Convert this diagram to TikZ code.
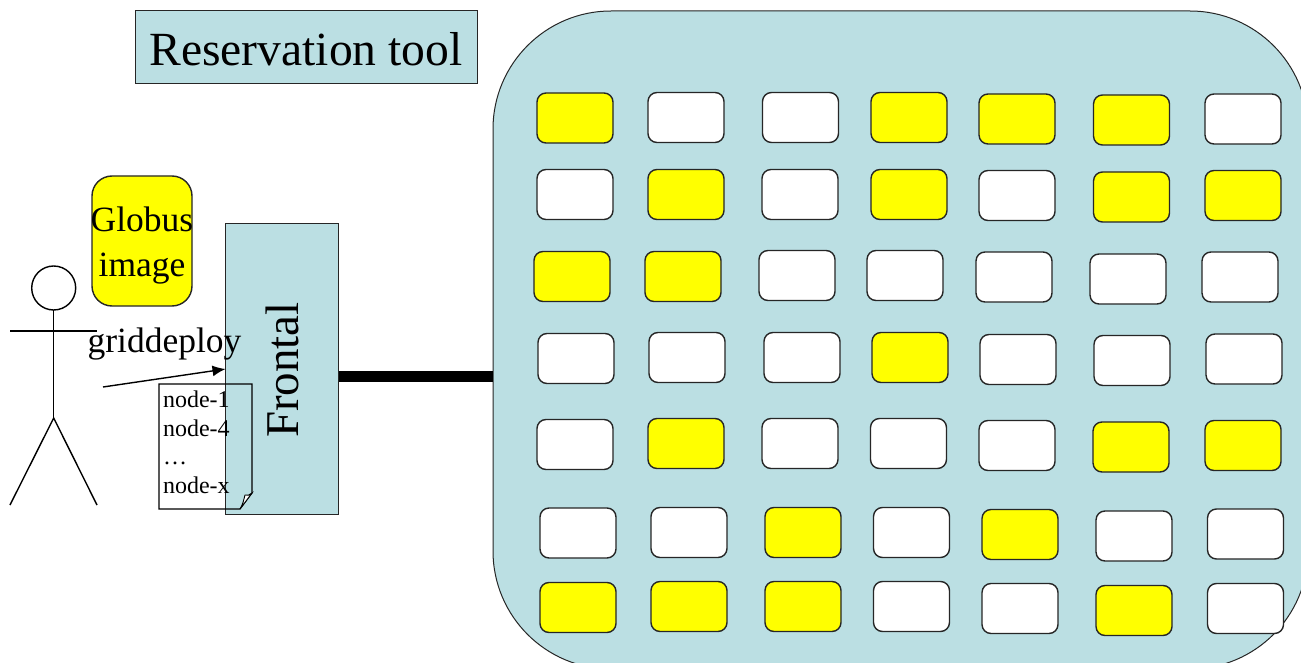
\documentclass[tikz,border=0pt]{standalone}
\usepackage{fontspec}
\setmainfont{Liberation Serif}
\usetikzlibrary{arrows.meta}
\definecolor{panelblue}{HTML}{BBDFE3}
\definecolor{cellyellow}{HTML}{FFFF00}
\newcommand{\fs}[1]{\fontsize{#1}{#1}\selectfont}
\tikzset{
  x=1pt,y=-1pt,
  line/.style={draw=black,line width=1.4pt},
  panel/.style={draw=black!85,line width=1pt,fill=panelblue,inner sep=0pt,outer sep=0pt},
  cell/.style={line,draw=black!85,rounded corners=9pt,minimum width=76pt,minimum height=50pt,inner sep=0pt,outer sep=0pt},
  label/.style={inner sep=0pt,outer sep=0pt,anchor=base,text=black},
  notetext/.style={label,anchor=base west,font=\fs{24}},
}
\begin{document}
\begin{tikzpicture}
\useasboundingbox (0,0) rectangle (1301,663);
\clip (0,0) rectangle (1301,663);
% cluster
\node[panel,rounded corners=118pt,minimum width=815pt,minimum height=658pt,anchor=north west] (cluster) at (493,11) {};
% cells: left, top, fill
\foreach \n/\xx/\yy/\cc in {
 a1/537/93/cellyellow,a2/648/92.5/white,a3/762.5/92.5/white,a4/871/92.5/cellyellow,a5/979/94/cellyellow,a6/1093.5/95/cellyellow,a7/1205/94/white,
 b1/537/169.5/white,b2/648/169.5/cellyellow,b3/762/169.5/white,b4/871/169.5/cellyellow,b5/979/170.5/white,b6/1093.5/172/cellyellow,b7/1205/170.5/cellyellow,
 c1/534/251.5/cellyellow,c2/645/251.5/cellyellow,c3/759/250.5/white,c4/867/250.5/white,c5/976/252/white,c6/1090/254/white,c7/1202/252/white,
 d1/538/333.5/white,d2/649/332.5/white,d3/764/332.5/white,d4/872/332.5/cellyellow,d5/980/334.5/white,d6/1094/335.5/white,d7/1206/334/white,
 e1/537/419.5/white,e2/648/418.5/cellyellow,e3/762/418.5/white,e4/870.5/418.5/white,e5/979/420.5/white,e6/1093/422/cellyellow,e7/1205/420.5/cellyellow,
 f1/540/508/white,f2/651/507.5/white,f3/765/507.5/cellyellow,f4/873.5/507.5/white,f5/982/509.5/cellyellow,f6/1096/511/white,f7/1207.5/509/white,
 g1/540/582.5/cellyellow,g2/651/581.5/cellyellow,g3/765/581.5/cellyellow,g4/873.5/581.5/white,g5/982/583.5/white,g6/1096/585.5/cellyellow,g7/1207.5/583.5/white}
 {\node[cell,fill=\cc,anchor=north west] (\n) at (\xx,\yy) {};}
% title
\node[panel,minimum width=342pt,minimum height=73pt,anchor=north west] (title) at (135,11) {};
\node[label,font=\fs{47.6}] (titletext) at (306,66) {Reservation tool};
% globus image
\node[line,draw=black!85,fill=cellyellow,rounded corners=20pt,minimum width=100pt,minimum height=130pt,inner sep=0pt,outer sep=0pt,anchor=north west] (globus) at (92,176) {};
\node[label,font=\fs{35.5}] (globus1) at (142,232) {Globus};
\node[label,font=\fs{35.5}] (globus2) at (142,276) {image};
% note paper (white part lies under the frontal box)
\path[fill=white] (159,384) -- (252,384) -- (252,493) -- (240,509) -- (159,509) -- cycle;
% frontal
\node[panel,minimum width=113pt,minimum height=291pt,anchor=north west] (frontal) at (225.5,223.5) {};
\node[label,font=\fs{47},rotate=90,anchor=base] (frontaltext) at (298,370) {Frontal};
% note outline and text
\draw[line,line width=1.1pt] (159,384) -- (252,384) -- (252,493) -- (240,509) -- (159,509) -- cycle;
\draw[line,fill=white,line width=0.9pt] (240,509) .. controls (243,504) and (244,499) .. (245,495) .. controls (247,496) and (250,495) .. (252,493) -- cycle;
\node[notetext] (n1) at (163,407) {node-1};
\node[notetext] (n2) at (163,436) {node-4};
\node[notetext] (n3) at (163,464) {…};
\node[notetext] (n4) at (163,493) {node-x};
% link
\coordinate (barlevel) at (400,376);
\draw[black,line width=11pt] (frontal.east |- barlevel) -- (cluster.west |- barlevel);
% stick figure
\node[line,circle,minimum size=44pt,inner sep=0pt,outer sep=0pt] (head) at (53.7,288) {};
\coordinate (hip) at (53.7,418);
\coordinate (armL) at (10,331);
\coordinate (armR) at (97,331);
\coordinate (footL) at (10,505);
\coordinate (footR) at (97,505);
\draw[line] (head.south) -- (hip);
\draw[line] (armL) -- (armR);
\draw[line] (footL) -- (hip) -- (footR);
% griddeploy
\node[label,font=\fs{35.5}] (gd) at (164.5,352) {griddeploy};
\coordinate (arrowstart) at (103,387);
\draw[line,-{Latex[length=13pt,width=11pt]}] (arrowstart) -- (frontal.west);
\end{tikzpicture}
\end{document}
